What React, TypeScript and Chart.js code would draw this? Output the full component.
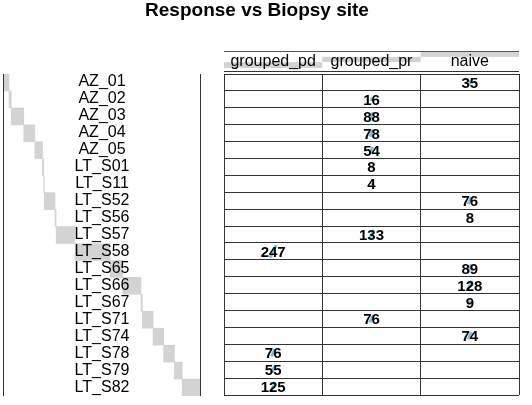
import React, { useEffect, useRef } from "react";
import { Chart, registerables } from "chart.js";

Chart.register(...registerables);

const TITLE = "Response vs Biopsy site";
const sites = [
  "AZ_01", "AZ_02", "AZ_03", "AZ_04", "AZ_05", "LT_S01", "LT_S11", "LT_S52", "LT_S56", "LT_S57",
  "LT_S58", "LT_S65", "LT_S66", "LT_S67", "LT_S71", "LT_S74", "LT_S78", "LT_S79", "LT_S82",
];
const responses = ["grouped_pd", "grouped_pr", "naive"];
const groupedPd = [0, 0, 0, 0, 0, 0, 0, 0, 0, 0, 247, 0, 0, 0, 0, 0, 76, 55, 125];
const groupedPr = [0, 16, 88, 78, 54, 8, 4, 0, 0, 133, 0, 0, 0, 0, 76, 0, 0, 0, 0];
const naive = [35, 0, 0, 0, 0, 0, 0, 76, 8, 0, 0, 89, 128, 9, 0, 74, 0, 0, 0];

const columns = [groupedPd, groupedPr, naive];
const W = 532;
const H = 405;
const FONT = "'Liberation Sans', Arial, Helvetica, sans-serif";

export default function App() {
  const leftRef = useRef<HTMLCanvasElement>(null);
  const rightRef = useRef<HTMLCanvasElement>(null);

  useEffect(() => {
    const rowTotals = sites.map((_, i) => columns.reduce((s, c) => s + c[i], 0));
    const colTotals = columns.map((c) => c.reduce((s, v) => s + v, 0));
    const grand = rowTotals.reduce((s, v) => s + v, 0);
    let acc = 0;
    const spans = rowTotals.map((t) => {
      const s: [number, number] = [acc, acc + t];
      acc += t;
      return s;
    });
    const maxVal = Math.max(...columns.flat());

    const leftPlugin = {
      id: "leftDecor",
      afterDatasetsDraw(chart: any) {
        const { ctx, chartArea } = chart;
        const yScale = chart.scales.y;
        ctx.save();
        ctx.strokeStyle = "#333";
        ctx.lineWidth = 1;
        ctx.beginPath();
        const lx = Math.round(chartArea.left) - 0.5;
        const rx = Math.round(chartArea.right) + 0.5;
        ctx.moveTo(lx, chartArea.top);
        ctx.lineTo(lx, chartArea.bottom);
        ctx.moveTo(rx, chartArea.top);
        ctx.lineTo(rx, chartArea.bottom);
        ctx.stroke();
        ctx.fillStyle = "#000";
        ctx.font = `16px ${FONT}`;
        ctx.textAlign = "center";
        ctx.textBaseline = "alphabetic";
        const cx = (chartArea.left + chartArea.right) / 2;
        sites.forEach((s, i) => {
          ctx.fillText(s, cx, yScale.getPixelForValue(i) + 4);
        });
        ctx.font = `bold 19px ${FONT}`;
        ctx.fillText(TITLE, 257, 16);
        ctx.restore();
      },
    };

    const left = new Chart(leftRef.current!, {
      type: "bar",
      data: {
        labels: sites,
        datasets: [
          {
            data: spans as any,
            backgroundColor: "#d3d3d3",
            borderWidth: 0,
            barPercentage: 1,
            categoryPercentage: 1,
          },
        ],
      },
      options: {
        indexAxis: "y",
        responsive: false,
        animation: false,
        layout: { padding: { left: 4, right: 332, top: 74, bottom: 9 } },
        scales: {
          x: { type: "linear", min: 0, max: grand, display: false },
          y: { display: false },
        },
        plugins: { legend: { display: false }, tooltip: { enabled: false } },
      },
      plugins: [leftPlugin],
    });

    const marks: any[] = [];
    columns.forEach((col, c) => {
      col.forEach((v, r) => {
        if (v > 0) marks.push({ x: c + 0.5, y: r + 0.5, v });
      });
    });

    const rightPlugin = {
      id: "rightDecor",
      afterDatasetsDraw(chart: any) {
        const { ctx, chartArea } = chart;
        const xs = chart.scales.x;
        const ys = chart.scales.y;
        ctx.save();
        ctx.fillStyle = "#000";
        ctx.font = `bold 15px ${FONT}`;
        ctx.textAlign = "center";
        ctx.textBaseline = "alphabetic";
        columns.forEach((col, c) => {
          col.forEach((v, r) => {
            if (v > 0) ctx.fillText(String(v), xs.getPixelForValue(c + 0.5), ys.getPixelForValue(r + 0.5) + 5.5);
          });
        });
        const bandTop = 52;
        const bandH = 16;
        let yCur = bandTop;
        for (let c = columns.length - 1; c >= 0; c--) {
          const h = (colTotals[c] / grand) * bandH;
          const x0 = xs.getPixelForValue(c);
          const x1 = xs.getPixelForValue(c + 1);
          ctx.fillStyle = "#d3d3d3";
          ctx.fillRect(x0, yCur, x1 - x0, h);
          yCur += h;
        }
        ctx.strokeStyle = "#555";
        ctx.lineWidth = 1;
        ctx.beginPath();
        ctx.moveTo(chartArea.left, 51.5);
        ctx.lineTo(chartArea.right, 51.5);
        ctx.stroke();
        ctx.strokeStyle = "#333";
        ctx.beginPath();
        ctx.moveTo(chartArea.left, 71.5);
        ctx.lineTo(chartArea.right, 71.5);
        ctx.stroke();
        ctx.fillStyle = "#000";
        ctx.font = `16px ${FONT}`;
        responses.forEach((r, c) => {
          ctx.fillText(r, xs.getPixelForValue(c + 0.5), 66);
        });
        ctx.restore();
      },
    };

    const right = new Chart(rightRef.current!, {
      type: "scatter",
      data: {
        datasets: [
          {
            data: marks,
            pointStyle: "line",
            rotation: -65,
            borderColor: "#78bfe6",
            backgroundColor: "#78bfe6",
            borderWidth: 3,
            pointRadius: (ctx: any) => {
              const v = ctx.raw ? ctx.raw.v : 0;
              return 7 * Math.sqrt(v / maxVal);
            },
          } as any,
        ],
      },
      options: {
        responsive: false,
        animation: false,
        layout: { padding: { left: 224, right: 13, top: 74, bottom: 9 } },
        scales: {
          x: {
            type: "linear",
            min: 0,
            max: 3,
            ticks: { display: false, stepSize: 1, autoSkip: false },
            grid: { color: "#333", lineWidth: 1, drawTicks: false },
            border: { display: false },
          },
          y: {
            type: "linear",
            min: 0,
            max: sites.length,
            reverse: true,
            ticks: { display: false, stepSize: 1, autoSkip: false },
            grid: { color: "#333", lineWidth: 1, drawTicks: false },
            border: { display: false },
          },
        },
        plugins: { legend: { display: false }, tooltip: { enabled: false } },
      },
      plugins: [rightPlugin],
    });

    return () => {
      left.destroy();
      right.destroy();
    };
  }, []);

  return (
    <div style={{ position: "fixed", left: 0, top: 0, width: W, height: H, background: "#fff" }}>
      <canvas ref={leftRef} width={W} height={H} style={{ position: "absolute", left: 0, top: 0 }} />
      <canvas ref={rightRef} width={W} height={H} style={{ position: "absolute", left: 0, top: 0 }} />
    </div>
  );
}
